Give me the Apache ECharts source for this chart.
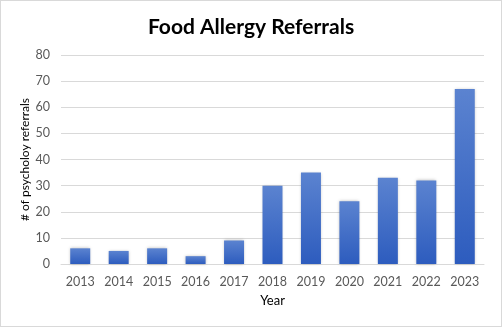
<!DOCTYPE html>
<html>
<head>
<meta charset="utf-8">
<script src="https://cdn.jsdelivr.net/npm/echarts@6/dist/echarts.min.js"></script>
<style>
  html, body { margin: 0; padding: 0; background: #fff; }
  #chart { width: 500px; height: 325px; border: 1px solid #d9d9d9; }
</style>
</head>
<body>
<div id="chart"></div>
<script>
const years = ['2013', '2014', '2015', '2016', '2017', '2018', '2019', '2020', '2021', '2022', '2023'];
const referrals = [6, 5, 6, 3, 9, 30, 35, 24, 33, 32, 67];
const yTicks = { min: 0, max: 80, interval: 10 };

const chart = echarts.init(document.getElementById('chart'), null, { renderer: 'canvas' });
const font = 'Lato, "Open Sans", sans-serif';

chart.setOption({
  animation: false,
  title: {
    text: 'Food Allergy Referrals',
    left: 'center',
    top: 11,
    textStyle: { fontFamily: font, fontSize: 21, fontWeight: 'bold', color: '#000' }
  },
  grid: { left: 60, right: 17, top: 54, bottom: 62 },
  xAxis: {
    type: 'category',
    data: years,
    name: 'Year',
    nameLocation: 'middle',
    nameGap: 30,
    nameTextStyle: { fontFamily: font, fontSize: 13, color: '#000' },
    axisLine: { lineStyle: { color: '#d9d9d9' } },
    axisTick: { show: false },
    axisLabel: { interval: 0, fontFamily: font, fontSize: 12.5, color: '#595959', margin: 11 }
  },
  yAxis: {
    type: 'value',
    min: yTicks.min,
    max: yTicks.max,
    interval: yTicks.interval,
    name: '# of psycholoy referrals',
    nameLocation: 'middle',
    nameGap: 30,
    nameMoveOverlap: false,
    nameTextStyle: { fontFamily: font, fontSize: 12, color: '#000' },
    axisLine: { show: false },
    axisTick: { show: false },
    axisLabel: { fontFamily: font, fontSize: 12.5, color: '#595959', margin: 11 },
    splitLine: { lineStyle: { color: '#d9d9d9' } }
  },
  series: [{
    type: 'bar',
    data: referrals,
    barWidth: '52%',
    itemStyle: {
      color: new echarts.graphic.LinearGradient(0, 0, 0, 1, [
        { offset: 0, color: '#5b83d0' },
        { offset: 1, color: '#2d5cbe' }
      ]),
      shadowColor: 'rgba(0,0,0,0.25)',
      shadowBlur: 3,
      shadowOffsetX: 0,
      shadowOffsetY: 0
    }
  }]
});
</script>
</body>
</html>
